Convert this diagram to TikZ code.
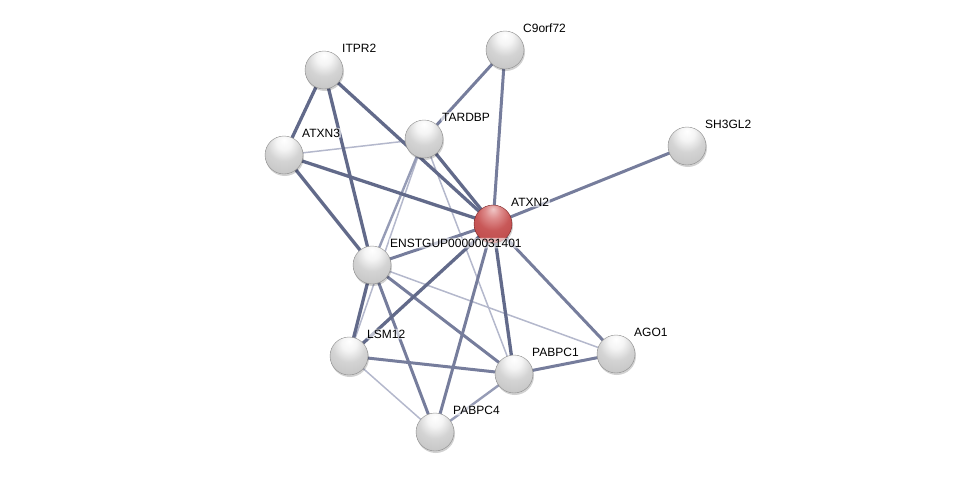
\documentclass[tikz,border=0pt]{standalone}
\usepackage{fontspec}
\setmainfont{Liberation Sans}
\definecolor{rb1}{RGB}{240,200,200}
\definecolor{rb2}{RGB}{222,140,140}
\definecolor{rb3}{RGB}{200,88,88}
\definecolor{rb4}{RGB}{188,72,72}
\definecolor{rb5}{RGB}{208,118,118}
\definecolor{rb6}{RGB}{168,58,58}
\definecolor{rb7}{RGB}{120,36,36}
\pgfdeclareradialshading{greyball}{\pgfpoint{0bp}{20bp}}{%
 color(0bp)=(white); color(10bp)=(black!4); color(22bp)=(black!17); color(40bp)=(black!24); color(54bp)=(black!17); color(62bp)=(black!30); color(70bp)=(black!55)}
\pgfdeclareradialshading{redball}{\pgfpoint{0bp}{20bp}}{%
 color(0bp)=(rb1); color(10bp)=(rb2); color(22bp)=(rb3); color(40bp)=(rb4); color(54bp)=(rb5); color(62bp)=(rb6); color(70bp)=(rb7)}
\definecolor{edark}{RGB}{98,106,138}
\definecolor{emid}{RGB}{118,125,156}
\definecolor{emlight}{RGB}{150,156,182}
\definecolor{elight}{RGB}{180,184,204}
\tikzset{
  prot/.style={circle, minimum size=38pt, inner sep=0pt, shading=greyball, draw=black!45, line width=0.4pt},
  protred/.style={prot, shading=redball, draw=rb7},
  lab/.style={anchor=west, inner sep=1pt, font=\fontsize{12}{14}\selectfont, text=black, fill=white, fill opacity=0.6, text opacity=1, rounded corners=2pt},
  edgeA/.style={draw=edark, line width=3.3pt},
  edgeB/.style={draw=emid, line width=3pt},
  edgeC/.style={draw=emlight, line width=2.4pt},
  edgeD/.style={draw=elight, line width=1.5pt},
  shad/.style={fill=black, fill opacity=0.18}
}
\begin{document}
\begin{tikzpicture}[x=1pt, y=-1pt]
\useasboundingbox (0,0) rectangle (976,477);
% coordinates of proteins
\coordinate (ITPR2) at (324,70);
\coordinate (C9orf72) at (505,50);
\coordinate (TARDBP) at (424,139);
\coordinate (ATXN3) at (284,155);
\coordinate (SH3GL2) at (687,146);
\coordinate (ATXN2) at (493,224);
\coordinate (ENST) at (372,265);
\coordinate (LSM12) at (349,356);
\coordinate (PABPC1) at (514,374);
\coordinate (AGO1) at (616,354);
\coordinate (PABPC4) at (435,432);
% edges
\draw[edgeD] (ATXN3) -- (TARDBP);
\draw[edgeD] (TARDBP) -- (PABPC1);
\draw[edgeD] (ENST) -- (AGO1);
\draw[edgeD] (LSM12) -- (PABPC4);
\draw[edgeD] (TARDBP) -- (LSM12);
\draw[edgeC] (TARDBP) -- (ENST);
\draw[edgeC] (PABPC1) -- (PABPC4);
\draw[edgeB] (C9orf72) -- (TARDBP);
\draw[edgeB] (C9orf72) -- (ATXN2);
\draw[edgeB] (SH3GL2) -- (ATXN2);
\draw[edgeB] (ATXN2) -- (AGO1);
\draw[edgeB] (AGO1) -- (PABPC1);
\draw[edgeB] (LSM12) -- (PABPC1);
\draw[edgeB] (ENST) -- (PABPC1);
\draw[edgeB] (ENST) -- (PABPC4);
\draw[edgeB] (ATXN2) -- (PABPC4);
\draw[edgeB] (ATXN2) -- (ENST);
\draw[edgeA] (ITPR2) -- (ATXN3);
\draw[edgeA] (ITPR2) -- (ENST);
\draw[edgeA] (ITPR2) -- (ATXN2);
\draw[edgeA] (ATXN3) -- (ATXN2);
\draw[edgeA] (ATXN3) -- (ENST);
\draw[edgeA] (TARDBP) -- (ATXN2);
\draw[edgeA] (ENST) -- (LSM12);
\draw[edgeA] (ATXN2) -- (LSM12);
\draw[edgeA] (ATXN2) -- (PABPC1);
% shadows
\foreach \p in {ITPR2,C9orf72,TARDBP,ATXN3,SH3GL2,ATXN2,ENST,LSM12,PABPC1,AGO1,PABPC4}
  \fill[shad] ([shift={(0.8,1.8)}]\p) circle (19.2);
% nodes
\node[prot] (nITPR2) at (ITPR2) {};
\node[prot] (nC9orf72) at (C9orf72) {};
\node[prot] (nTARDBP) at (TARDBP) {};
\node[prot] (nATXN3) at (ATXN3) {};
\node[prot] (nSH3GL2) at (SH3GL2) {};
\node[protred] (nATXN2) at (ATXN2) {};
\node[prot] (nENST) at (ENST) {};
\node[prot] (nLSM12) at (LSM12) {};
\node[prot] (nPABPC1) at (PABPC1) {};
\node[prot] (nAGO1) at (AGO1) {};
\node[prot] (nPABPC4) at (PABPC4) {};
% labels
\node[lab] (lITPR2) at ([shift={(17,-22)}]ITPR2) {ITPR2};
\node[lab] (lC9orf72) at ([shift={(17,-22)}]C9orf72) {C9orf72};
\node[lab] (lTARDBP) at ([shift={(17,-22)}]TARDBP) {TARDBP};
\node[lab] (lATXN3) at ([shift={(17,-22)}]ATXN3) {ATXN3};
\node[lab] (lSH3GL2) at ([shift={(17,-22)}]SH3GL2) {SH3GL2};
\node[lab] (lATXN2) at ([shift={(17,-22)}]ATXN2) {ATXN2};
\node[lab] (lENST) at ([shift={(17,-22)}]ENST) {ENSTGUP00000031401};
\node[lab] (lLSM12) at ([shift={(17,-22)}]LSM12) {LSM12};
\node[lab] (lPABPC1) at ([shift={(17,-22)}]PABPC1) {PABPC1};
\node[lab] (lAGO1) at ([shift={(17,-22)}]AGO1) {AGO1};
\node[lab] (lPABPC4) at ([shift={(17,-22)}]PABPC4) {PABPC4};
\end{tikzpicture}
\end{document}
